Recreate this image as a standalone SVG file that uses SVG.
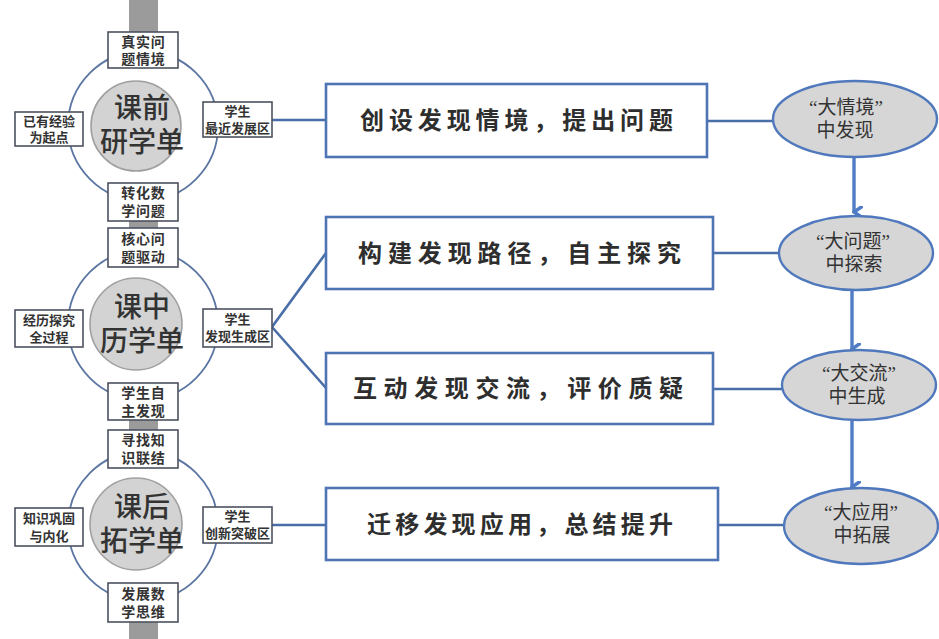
<svg xmlns="http://www.w3.org/2000/svg" width="939" height="639" viewBox="0 0 939 639">
<defs>
<style>
.bar{fill:#9b9b9b}
.ring{fill:none;stroke:#5b76a3;stroke-width:1.8}
.core{fill:#d3d3d3;stroke:#a0a0a0;stroke-width:1.6}
.core-t{font-family:"Noto Sans CJK SC","Noto Sans",sans-serif;font-size:28px;font-weight:500;fill:#333;text-anchor:middle}
.sbox{fill:#fff;stroke:#4d5260;stroke-width:1.6}
.st{font-family:"Noto Sans CJK SC","Noto Sans",sans-serif;font-weight:700;fill:#333;text-anchor:middle}
.s3{font-size:14px;letter-spacing:0.8px}
.s5{font-size:13px}
.mbox{fill:#fff;stroke:#4f74b4;stroke-width:2.6}
.mt{font-family:"Noto Sans CJK SC","Noto Sans",sans-serif;font-size:24px;font-weight:700;fill:#2e2e2e}
.ell{fill:#d6d6d6;stroke:#5079bd;stroke-width:2.4}
.et{font-family:"Liberation Serif","Noto Sans CJK SC",serif;font-size:19px;fill:#333;text-anchor:middle}
.con{fill:none;stroke:#4a6ea8;stroke-width:2.6}
.arr{fill:none;stroke:#4f7cc4;stroke-width:3.4}
</style>
<marker id="ah" viewBox="0 0 12 10" refX="6" refY="8.5" markerWidth="13" markerHeight="11" markerUnits="userSpaceOnUse" orient="auto-start-reverse">
<path d="M0.5,0.5 L6,8.5 L11.5,0.5" fill="none" stroke="#4f7cc4" stroke-width="3.2"/>
</marker>
</defs>
<rect width="939" height="639" fill="#fff"/>

<g id="bars">
<rect class="bar" x="129" y="0" width="29" height="33"/>
<rect class="bar" x="129" y="220" width="29" height="9"/>
<rect class="bar" x="129" y="419" width="29" height="12"/>
<rect class="bar" x="129" y="621" width="29" height="18"/>
</g>

<g id="connectors">
<line class="con" x1="272" y1="120" x2="326" y2="120"/>
<polyline class="con" points="326,253 272,327 326,388"/>
<line class="con" x1="272" y1="525" x2="326" y2="525"/>
<line class="con" x1="707" y1="121" x2="773" y2="121"/>
<line class="con" x1="713" y1="253" x2="780" y2="253"/>
<line class="con" x1="713" y1="389" x2="782" y2="389"/>
<line class="con" x1="718" y1="525" x2="785" y2="525"/>
<line class="arr" x1="854" y1="157" x2="854" y2="212" marker-end="url(#ah)"/>
<line class="arr" x1="852" y1="290" x2="852" y2="349" marker-end="url(#ah)"/>
<line class="arr" x1="852" y1="420" x2="852" y2="487" marker-end="url(#ah)"/>
</g>

<g id="hub-pre">
<circle class="ring" cx="143" cy="126" r="75"/>
<circle class="core" cx="136" cy="126" r="45"/>
<text class="core-t"><tspan x="142" y="118">课前</tspan><tspan x="142" y="152">研学单</tspan></text>
</g>
<g id="pre-top"><rect class="sbox" x="108" y="32" width="70" height="36"/><text class="st s3"><tspan x="143.4" y="47">真实问</tspan><tspan x="143.4" y="64">题情境</tspan></text></g>
<g id="pre-left"><rect class="sbox" x="15" y="112" width="68" height="34"/><text class="st s5"><tspan x="49" y="126">已有经验</tspan><tspan x="49" y="142">为起点</tspan></text></g>
<g id="pre-right"><rect class="sbox" x="203" y="102" width="69" height="35"/><text class="st s5"><tspan x="237.5" y="116">学生</tspan><tspan x="237.5" y="133">最近发展区</tspan></text></g>
<g id="pre-bottom"><rect class="sbox" x="108" y="183" width="70" height="38"/><text class="st s3"><tspan x="143.4" y="198">转化数</tspan><tspan x="143.4" y="216">学问题</tspan></text></g>

<g id="hub-in">
<circle class="ring" cx="143" cy="325" r="75"/>
<circle class="core" cx="136" cy="324" r="46"/>
<text class="core-t"><tspan x="142" y="317">课中</tspan><tspan x="142" y="351">历学单</tspan></text>
</g>
<g id="in-top"><rect class="sbox" x="108" y="228" width="70" height="39"/><text class="st s3"><tspan x="143.4" y="244">核心问</tspan><tspan x="143.4" y="262">题驱动</tspan></text></g>
<g id="in-left"><rect class="sbox" x="15" y="310" width="68" height="37"/><text class="st s5"><tspan x="49" y="325">经历探究</tspan><tspan x="49" y="342">全过程</tspan></text></g>
<g id="in-right"><rect class="sbox" x="203" y="309" width="69" height="38"/><text class="st s5"><tspan x="237.5" y="324">学生</tspan><tspan x="237.5" y="341">发现生成区</tspan></text></g>
<g id="in-bottom"><rect class="sbox" x="108" y="383" width="70" height="37"/><text class="st s3"><tspan x="143.4" y="398">学生自</tspan><tspan x="143.4" y="416">主发现</tspan></text></g>

<g id="hub-post">
<circle class="ring" cx="143" cy="526" r="75"/>
<circle class="core" cx="136" cy="524" r="46"/>
<text class="core-t"><tspan x="142" y="517">课后</tspan><tspan x="142" y="551">拓学单</tspan></text>
</g>
<g id="post-top"><rect class="sbox" x="108" y="430" width="70" height="38"/><text class="st s3"><tspan x="143.4" y="445">寻找知</tspan><tspan x="143.4" y="463">识联结</tspan></text></g>
<g id="post-left"><rect class="sbox" x="15" y="508" width="68" height="38"/><text class="st s5"><tspan x="49" y="523">知识巩固</tspan><tspan x="49" y="541">与内化</tspan></text></g>
<g id="post-right"><rect class="sbox" x="203" y="507" width="69" height="36"/><text class="st s5"><tspan x="237.5" y="521">学生</tspan><tspan x="237.5" y="538">创新突破区</tspan></text></g>
<g id="post-bottom"><rect class="sbox" x="108" y="583" width="70" height="39"/><text class="st s3"><tspan x="143.4" y="599">发展数</tspan><tspan x="143.4" y="617">学思维</tspan></text></g>

<g id="step1"><rect class="mbox" x="326" y="84" width="381" height="73"/><text class="mt" x="360" y="129" textLength="313" lengthAdjust="spacing">创设发现情境，提出问题</text></g>
<g id="step2"><rect class="mbox" x="326" y="217" width="387" height="72"/><text class="mt" x="358" y="261.5" textLength="323" lengthAdjust="spacing">构建发现路径，自主探究</text></g>
<g id="step3"><rect class="mbox" x="326" y="353" width="387" height="71"/><text class="mt" x="353" y="397" textLength="330" lengthAdjust="spacing">互动发现交流，评价质疑</text></g>
<g id="step4"><rect class="mbox" x="326" y="488" width="392" height="72"/><text class="mt" x="367" y="532.5" textLength="306" lengthAdjust="spacing">迁移发现应用，总结提升</text></g>

<g id="stage1"><ellipse class="ell" cx="855" cy="119" rx="82" ry="38"/><text class="et"><tspan x="846" y="114">“大情境”</tspan><tspan x="845" y="137">中发现</tspan></text></g>
<g id="stage2"><ellipse class="ell" cx="856" cy="253" rx="77" ry="37"/><text class="et"><tspan x="853" y="248">“大问题”</tspan><tspan x="854" y="271">中探索</tspan></text></g>
<g id="stage3"><ellipse class="ell" cx="859" cy="385" rx="77" ry="35"/><text class="et"><tspan x="859" y="380">“大交流”</tspan><tspan x="857" y="403">中生成</tspan></text></g>
<g id="stage4"><ellipse class="ell" cx="861" cy="526" rx="77" ry="38"/><text class="et"><tspan x="861" y="519">“大应用”</tspan><tspan x="862" y="542">中拓展</tspan></text></g>
</svg>
